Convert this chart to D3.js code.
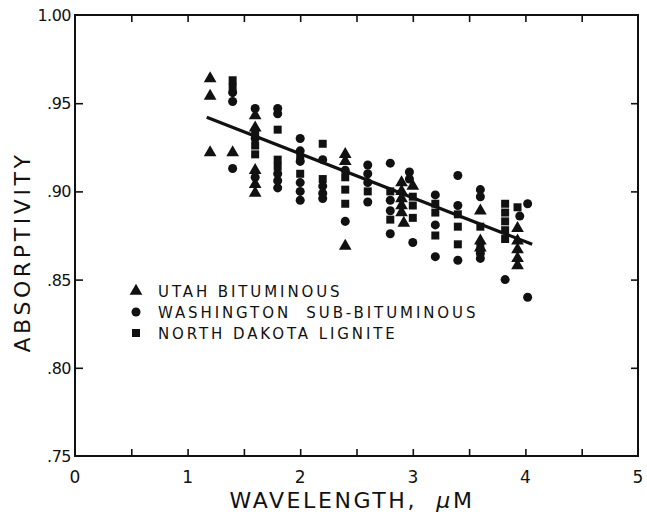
<!DOCTYPE html>
<html><head><meta charset="utf-8">
<script src="https://cdn.jsdelivr.net/npm/d3@7"></script>
<style>body{margin:0;background:#fff}svg{display:block}text{font-family:"DejaVu Sans",sans-serif;fill:#111}</style>
</head><body>
<script>
const W = 647, H = 516;
const xTicks = [0, 1, 2, 3, 4, 5];
const yTicks = [0.75, 0.80, 0.85, 0.90, 0.95, 1.00];
const yTickLabels = [".75", ".80", ".85", ".90", ".95", "1.00"];
const seriesNames = ["UTAH BITUMINOUS", "WASHINGTON  SUB-BITUMINOUS", "NORTH DAKOTA LIGNITE"];

const utah = [
  [1.2,.964],[1.2,.954],[1.2,.922],[1.4,.922],
  [1.6,.943],[1.6,.936],[1.6,.912],[1.6,.904],[1.6,.899],
  [2.4,.921],[2.4,.917],[2.4,.869],
  [2.9,.905],[2.9,.900],[2.9,.896],[2.9,.892],[2.9,.888],[2.92,.882],[3.0,.903],
  [3.6,.889],[3.6,.872],[3.6,.868],
  [3.93,.879],[3.93,.872],[3.93,.867],[3.93,.862],[3.93,.858]
];
const washington = [
  [1.4,.956],[1.4,.951],[1.4,.913],
  [1.6,.947],[1.6,.930],[1.6,.908],
  [1.8,.947],[1.8,.944],[1.8,.910],[1.8,.906],[1.8,.902],
  [2.0,.930],[2.0,.923],[2.0,.917],[2.0,.905],[2.0,.900],[2.0,.895],
  [2.2,.918],[2.2,.903],[2.2,.899],[2.2,.896],
  [2.4,.912],[2.4,.883],
  [2.6,.915],[2.6,.910],[2.6,.905],[2.6,.894],
  [2.8,.916],[2.8,.895],[2.8,.889],[2.8,.876],
  [2.97,.911],[2.97,.907],[3.0,.871],
  [3.2,.898],[3.2,.881],[3.2,.863],
  [3.4,.909],[3.4,.892],[3.4,.861],
  [3.6,.901],[3.6,.897],[3.6,.865],[3.6,.862],
  [3.82,.850],
  [4.02,.893],[3.95,.886],[4.02,.840]
];
const northDakota = [
  [1.4,.963],[1.4,.959],
  [1.6,.933],[1.6,.926],[1.6,.921],
  [1.8,.935],[1.8,.918],[1.8,.914],
  [2.0,.919],[2.0,.910],
  [2.2,.927],[2.2,.907],
  [2.4,.908],[2.4,.901],[2.4,.893],
  [2.6,.900],
  [2.8,.900],[2.8,.884],
  [3.0,.897],[3.0,.892],[3.0,.885],
  [3.2,.893],[3.2,.888],[3.2,.875],
  [3.4,.887],[3.4,.880],[3.4,.870],
  [3.6,.880],[3.6,.868],
  [3.82,.893],[3.82,.888],[3.82,.883],[3.82,.878],[3.82,.873],
  [3.93,.891]
];
const fitLine = [[1.17,.942],[4.06,.870]];

const svg = d3.select("body").append("svg").attr("width", W).attr("height", H);
const x = d3.scaleLinear().domain([0,5]).range([75,638]);
const y = d3.scaleLinear().domain([0.75,1.00]).range([456,15]);
const ink = "#111";

svg.append("rect").attr("x",x(0)).attr("y",y(1)).attr("width",x(5)-x(0)).attr("height",y(0.75)-y(1))
  .attr("fill","none").attr("stroke",ink).attr("stroke-width",2);

const halfTicks = d3.range(0.5,5,0.5);
svg.append("g").attr("transform",`translate(0,${y(0.75)})`)
  .call(d3.axisBottom(x).tickValues(halfTicks).tickSize(-7).tickFormat(""))
  .call(g=>g.select(".domain").remove())
  .call(g=>g.selectAll("line").attr("stroke",ink).attr("stroke-width",1.6));
svg.append("g").attr("transform",`translate(0,${y(1)})`)
  .call(d3.axisTop(x).tickValues(halfTicks).tickSize(-7).tickFormat(""))
  .call(g=>g.select(".domain").remove())
  .call(g=>g.selectAll("line").attr("stroke",ink).attr("stroke-width",1.6));
svg.append("g").attr("transform",`translate(${x(0)},0)`)
  .call(d3.axisLeft(y).tickValues(yTicks.slice(1,-1)).tickSize(-8).tickFormat(""))
  .call(g=>g.select(".domain").remove())
  .call(g=>g.selectAll("line").attr("stroke",ink).attr("stroke-width",1.6));
svg.append("g").attr("transform",`translate(${x(5)},0)`)
  .call(d3.axisRight(y).tickValues(yTicks.slice(1,-1)).tickSize(-7).tickFormat(""))
  .call(g=>g.select(".domain").remove())
  .call(g=>g.selectAll("line").attr("stroke",ink).attr("stroke-width",1.6));

svg.append("g").selectAll("text").data(xTicks).join("text")
  .attr("x",d=>x(d)).attr("y",y(0.75)+27).attr("text-anchor","middle")
  .attr("font-size",17).text(d=>d);
svg.append("g").selectAll("text").data(yTicks).join("text")
  .attr("x",x(0)-4).attr("y",d=>y(d)+6).attr("text-anchor","end")
  .attr("font-size",16).attr("letter-spacing",-0.5).text((d,i)=>yTickLabels[i]);

const xt = svg.append("text").attr("x",352).attr("y",508).attr("text-anchor","middle")
  .attr("font-size",22).attr("letter-spacing",2.6);
xt.append("tspan").text("WAVELENGTH,\u00a0\u00a0");
xt.append("tspan").attr("font-style","italic").text("μ");
xt.append("tspan").text("M");
svg.append("text").attr("transform","translate(30,252) rotate(-90)").attr("text-anchor","middle")
  .attr("font-size",22).attr("letter-spacing",3.6).text("ABSORPTIVITY");

svg.append("path").datum(fitLine)
  .attr("d",d3.line().x(d=>x(d[0])).y(d=>y(d[1])))
  .attr("stroke",ink).attr("stroke-width",3.2).attr("fill","none");

const symTri = d3.symbol().type(d3.symbolTriangle).size(70);
const symCir = d3.symbol().type(d3.symbolCircle).size(64);
const symSq = d3.symbol().type(d3.symbolSquare).size(64);
const sets = [[utah,symTri],[washington,symCir],[northDakota,symSq]];
sets.forEach(([data,sym])=>{
  svg.append("g").selectAll("path").data(data).join("path")
    .attr("transform",d=>`translate(${x(d[0])},${y(d[1])})`)
    .attr("d",sym()).attr("fill",ink);
});

const lg = svg.append("g");
seriesNames.forEach((name,i)=>{
  const yy = 291 + i*21;
  lg.append("path").attr("transform",`translate(136,${yy})`).attr("d",[symTri,symCir,symSq][i]()).attr("fill",ink);
  lg.append("text").attr("x",158).attr("y",yy+6).attr("font-size",15).attr("letter-spacing",2.9)
    .style("white-space","pre").text(name);
});
</script>
</body></html>
